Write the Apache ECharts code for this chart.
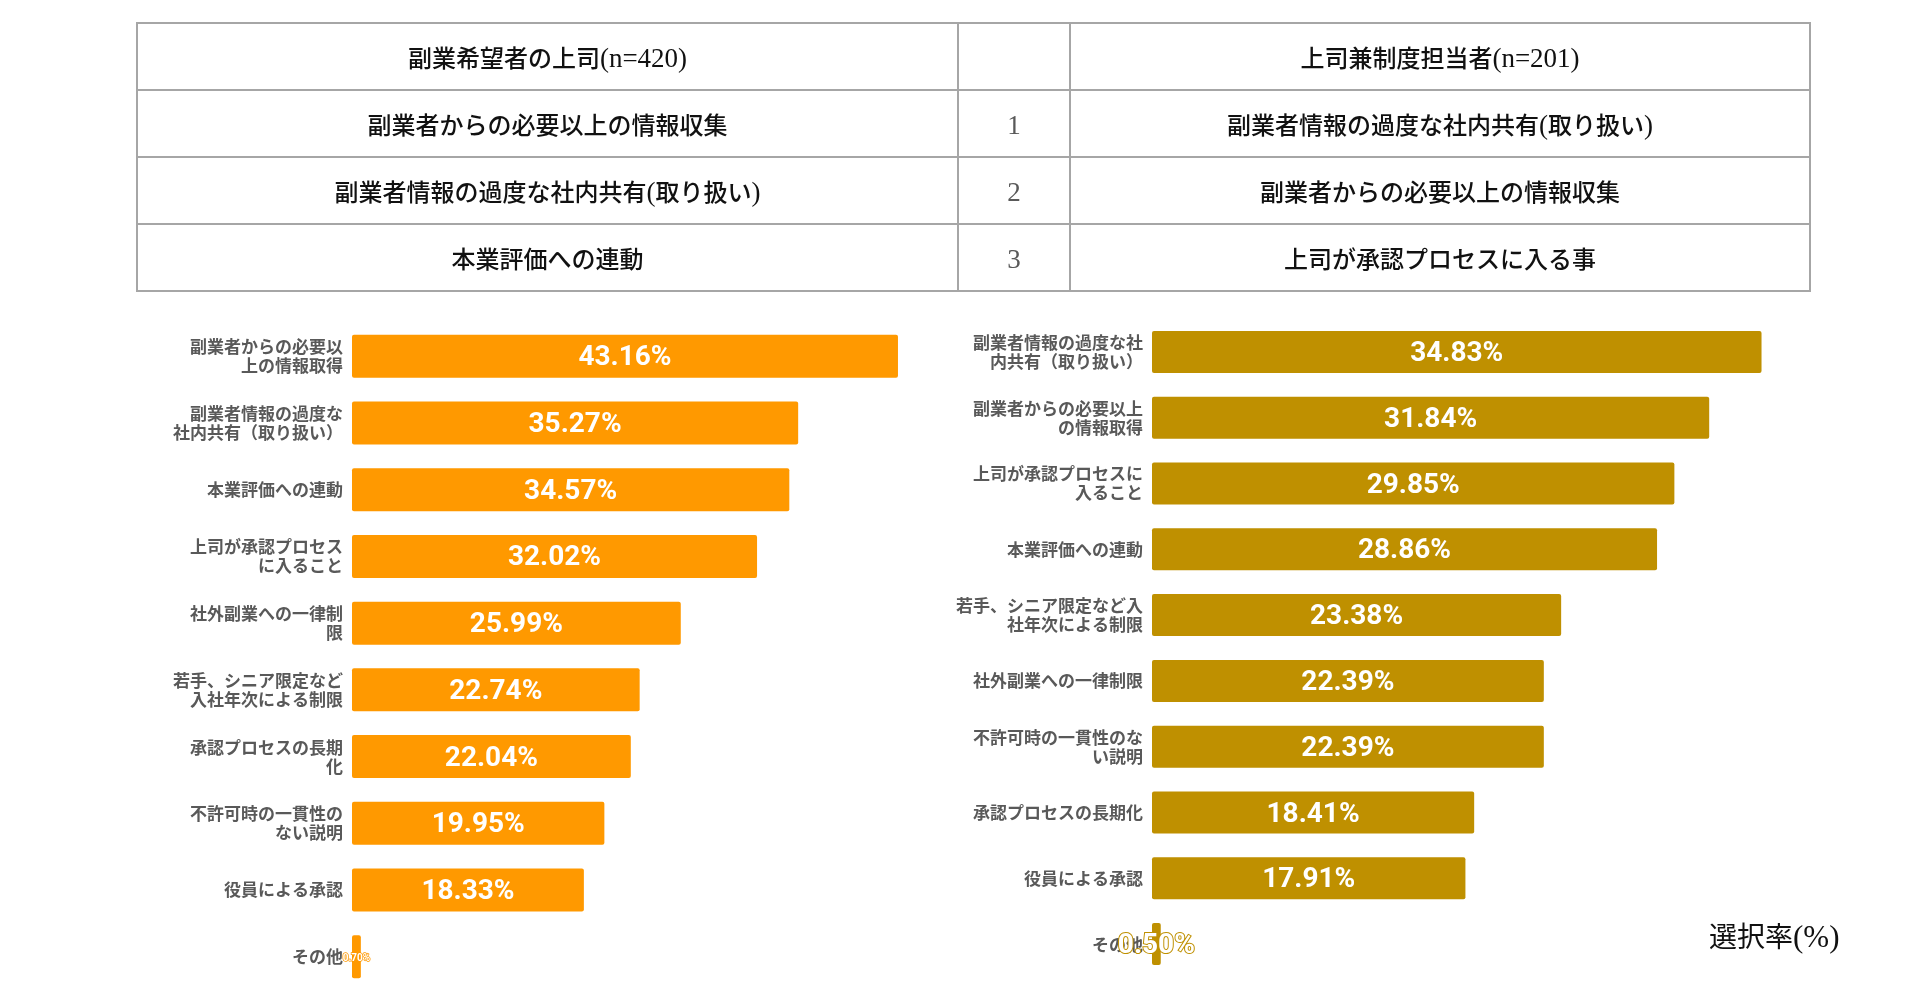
<!DOCTYPE html>
<html>
<head>
<meta charset="utf-8">
<script src="https://cdn.jsdelivr.net/npm/echarts@6/dist/echarts.min.js"></script>
<style>
	html, body { margin: 0; padding: 0; background: #fff; }
	#main { position: absolute; left: 0; top: 0; width: 1909px; height: 990px; }
	#rankTable {
		position: absolute; left: 136px; top: 22px;
		border-collapse: collapse; table-layout: fixed;
		font-family: "Noto Sans CJK JP", "Liberation Serif", serif;
		font-size: 24px; font-weight: 500; color: #111; z-index: 2;
	}
	#rankTable td {
		border: 2px solid #a6a6a6; height: 65px; padding: 0;
		text-align: center;
	}
	#rankTable td.rank { color: #595959; font-weight: normal; }
	.lat { font-family: "Liberation Serif", serif; font-size: 27px; }
	#unitText {
		position: absolute; left: 1709px; top: 915px;
		font-family: "Noto Sans CJK JP", serif;
		font-size: 28px; color: #111; z-index: 2;
	}
	#unitText .lat { font-size: 31px; }
</style>
</head>
<body>
<div id="main"></div>
<table id="rankTable"></table>
<div id="unitText"></div>
<script>
var leftHeader = '副業希望者の上司(n=420)';
var rightHeader = '上司兼制度担当者(n=201)';
var ranks = ['1', '2', '3'];
var leftTop3 = ['副業者からの必要以上の情報収集', '副業者情報の過度な社内共有(取り扱い)', '本業評価への連動'];
var rightTop3 = ['副業者情報の過度な社内共有(取り扱い)', '副業者からの必要以上の情報収集', '上司が承認プロセスに入る事'];
var unitLabel = '選択率(%)';

var leftCats = [
	'副業者からの必要以\n上の情報取得',
	'副業者情報の過度な\n社内共有（取り扱い）',
	'本業評価への連動',
	'上司が承認プロセス\nに入ること',
	'社外副業への一律制\n限',
	'若手、シニア限定など\n入社年次による制限',
	'承認プロセスの長期\n化',
	'不許可時の一貫性の\nない説明',
	'役員による承認',
	'その他'
];
var leftValues = [43.16, 35.27, 34.57, 32.02, 25.99, 22.74, 22.04, 19.95, 18.33, 0.70];

var rightCats = [
	'副業者情報の過度な社\n内共有（取り扱い）',
	'副業者からの必要以上\nの情報取得',
	'上司が承認プロセスに\n入ること',
	'本業評価への連動',
	'若手、シニア限定など入\n社年次による制限',
	'社外副業への一律制限',
	'不許可時の一貫性のな\nい説明',
	'承認プロセスの長期化',
	'役員による承認',
	'その他'
];
var rightValues = [34.83, 31.84, 29.85, 28.86, 23.38, 22.39, 22.39, 18.41, 17.91, 0.50];

var leftColor = '#ff9900';
var rightColor = '#bf9000';

// ascii runs get the serif face, like the original table
function wrapLatin(s) {
	return s.replace(/[\x20-\x7e]+/g, function (m) {
		return '<span class="lat">' + m + '</span>';
	});
}

function buildTable() {
	var table = document.getElementById('rankTable');
	var html = '<colgroup><col style="width:821px"><col style="width:112px"><col style="width:740px"></colgroup>';
	html += '<tr><td>' + wrapLatin(leftHeader) + '</td><td></td><td>' + wrapLatin(rightHeader) + '</td></tr>';
	for (var i = 0, len = ranks.length; i < len; i++) {
		html += '<tr><td>' + wrapLatin(leftTop3[i]) + '</td><td class="rank">' + wrapLatin(ranks[i]) +
			'</td><td>' + wrapLatin(rightTop3[i]) + '</td></tr>';
	}
	table.innerHTML = html;
	document.getElementById('unitText').innerHTML = wrapLatin(unitLabel);
}

function buildSeriesData(values, smallSize) {
	return values.map(function (v) {
		if (v < 1 && smallSize) {
			return { value: v, label: { fontSize: smallSize, textBorderWidth: 1.5 } };
		}
		return v;
	});
}

function buildAxes(idx, cats, max) {
	return {
		x: {
			type: 'value', gridIndex: idx, min: 0, max: max,
			show: false, splitLine: { show: false }
		},
		y: {
			type: 'category', gridIndex: idx, data: cats, inverse: true,
			axisLine: { show: false },
			axisTick: { show: false },
			axisLabel: {
				margin: 9,
				fontFamily: 'Noto Sans CJK JP',
				fontSize: 17,
				fontWeight: 'bold',
				lineHeight: 19,
				color: '#595959',
				align: 'right'
			}
		}
	};
}

function buildSeries(idx, values, color, barWidth, smallSize) {
	return {
		type: 'bar',
		xAxisIndex: idx,
		yAxisIndex: idx,
		barWidth: barWidth,
		data: buildSeriesData(values, smallSize),
		itemStyle: { color: color, borderRadius: 2 },
		label: {
			show: true,
			position: 'inside',
			offset: [0, 2],
			formatter: function (p) {
				return p.value.toFixed(2) + '%';
			},
			fontFamily: 'Roboto',
			fontWeight: 'bold',
			fontSize: 28,
			color: '#fff',
			textBorderColor: color,
			textBorderWidth: 2
		}
	};
}

function init() {
	buildTable();
	var chart = echarts.init(document.getElementById('main'), null, { renderer: 'canvas' });
	var a0 = buildAxes(0, leftCats, 50);
	var a1 = buildAxes(1, rightCats, 40);
	var option = {
		animation: false,
		grid: [
			{ left: 352, top: 323, width: 632.5, height: 667 },
			{ left: 1152, top: 319, width: 700, height: 658 }
		],
		xAxis: [a0.x, a1.x],
		yAxis: [a0.y, a1.y],
		series: [
			buildSeries(0, leftValues, leftColor, 43, 10),
			buildSeries(1, rightValues, rightColor, 42, 0)
		]
	};
	chart.setOption(option);
}

init();
</script>
</body>
</html>
